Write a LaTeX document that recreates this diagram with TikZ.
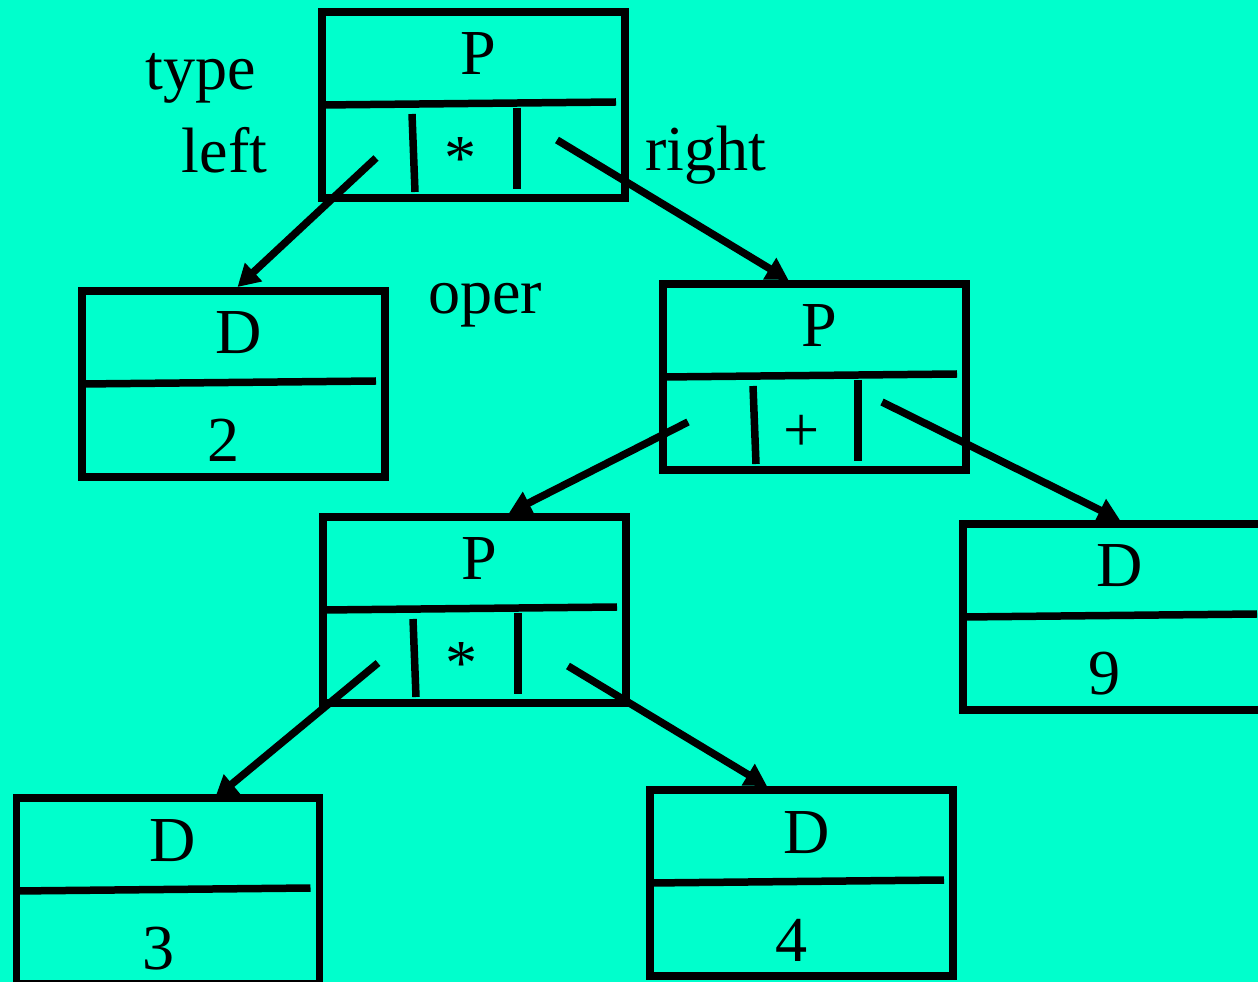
\documentclass[tikz,border=0pt]{standalone}
\usepackage{fontspec}
\setmainfont{Liberation Serif}
\usepackage{xcolor}
\usetikzlibrary{calc}
\usetikzlibrary{arrows.meta}
\definecolor{aqua}{RGB}{0,255,204}

\begin{document}
\begin{tikzpicture}[x=0.02cm,y=-0.02cm,
  box/.style={draw,line width=0.15cm,minimum width=6.06cm,minimum height=3.72cm,inner sep=0pt,outer sep=0pt},
  rule/.style={line width=0.15cm},
  link/.style={line width=0.15cm,-{Triangle[length=0.44cm,width=0.48cm]}},
  lbl/.style={anchor=base,inner sep=0pt,font=\fontsize{36.5}{44}\selectfont}]
% Background
\fill[aqua] (0,0) rectangle (1258,982);
\useasboundingbox (0,0) rectangle (1258,982);

% Records
\node[box] (p1) at (473.5,105) {};
\node[box] (d2) at (233.5,384) {};
\node[box] (p2) at (814.5,377) {};
\node[box] (p3) at (474.5,610) {};
\node[box] (d9) at (1114.5,617) {};
\node[box] (d3) at (168,891) {};
\node[box] (d4) at (801.5,883) {};

% Dividers
\draw[rule] (p1.west) -- ($(p1)+(142.5,-3)$);
\draw[rule] (d2.west) -- ($(d2)+(142.5,-3)$);
\draw[rule] (p2.west) -- ($(p2)+(142.5,-3)$);
\draw[rule] (p3.west) -- ($(p3)+(142.5,-3)$);
\draw[rule] (d9.west) -- ($(d9)+(142.5,-3)$);
\draw[rule] (d3.west) -- ($(d3)+(142.5,-3)$);
\draw[rule] (d4.west) -- ($(d4)+(142.5,-3)$);

% Fields of the operator records
\draw[rule] ($(p1)+(-61.5,9)$) -- ($(p1)+(-58.5,87)$);
\draw[rule] ($(p1)+(43.5,3)$) -- ($(p1)+(43.5,84)$);
\draw[rule] ($(p2)+(-61.5,9)$) -- ($(p2)+(-58.5,87)$);
\draw[rule] ($(p2)+(43.5,3)$) -- ($(p2)+(43.5,84)$);
\draw[rule] ($(p3)+(-61.5,9)$) -- ($(p3)+(-58.5,87)$);
\draw[rule] ($(p3)+(43.5,3)$) -- ($(p3)+(43.5,84)$);

% Record texts
\node[lbl] (p1-t) at ($(p1)+(5,-30)$) {P};
\node[lbl] (p1-b) at ($(p1)+(-12.5,75)$) {*};
\node[lbl] (d2-t) at ($(d2)+(5,-30)$) {D};
\node[lbl] (d2-b) at ($(d2)+(-9.5,78)$) {2};
\node[lbl] (p2-t) at ($(p2)+(5,-30)$) {P};
\node[lbl] (p2-b) at ($(p2)+(-12.5,75)$) {+};
\node[lbl] (p3-t) at ($(p3)+(5,-30)$) {P};
\node[lbl] (p3-b) at ($(p3)+(-12.5,75)$) {*};
\node[lbl] (d9-t) at ($(d9)+(5,-30)$) {D};
\node[lbl] (d9-b) at ($(d9)+(-9.5,78)$) {9};
\node[lbl] (d3-t) at ($(d3)+(5,-30)$) {D};
\node[lbl] (d3-b) at ($(d3)+(-9.5,78)$) {3};
\node[lbl] (d4-t) at ($(d4)+(5,-30)$) {D};
\node[lbl] (d4-b) at ($(d4)+(-9.5,78)$) {4};

% Pointer starts
\coordinate (p1-l) at ($(p1)+(-97.5,53)$);
\coordinate (p1-r) at ($(p1)+(83.5,35)$);
\coordinate (p2-l) at ($(p2)+(-126.5,45)$);
\coordinate (p2-r) at ($(p2)+(67.5,25)$);
\coordinate (p3-l) at ($(p3)+(-96.5,53)$);
\coordinate (p3-r) at ($(p3)+(93.5,56)$);

% Pointers
\draw[link] (p1-l) -- ($(d2.north)+(4,-4)$);
\draw[link] (p1-r) -- ($(p2.north)+(-26,-4)$);
\draw[link] (p2-l) -- ($(p3.north)+(34.5,-4)$);
\draw[link] (p2-r) -- ($(d9.north)+(5.5,-4)$);
\draw[link] (p3-l) -- ($(d3.north)+(47,0)$);
\draw[link] (p3-r) -- ($(d4.north)+(-34.5,-4)$);

% Field names
\node[lbl] (type) at (201,90) {type};
\node[lbl] (left) at (224.5,173) {left};
\node[lbl] (right) at (706,171) {right};
\node[lbl] (oper) at (485,314) {oper};
\end{tikzpicture}
\end{document}
